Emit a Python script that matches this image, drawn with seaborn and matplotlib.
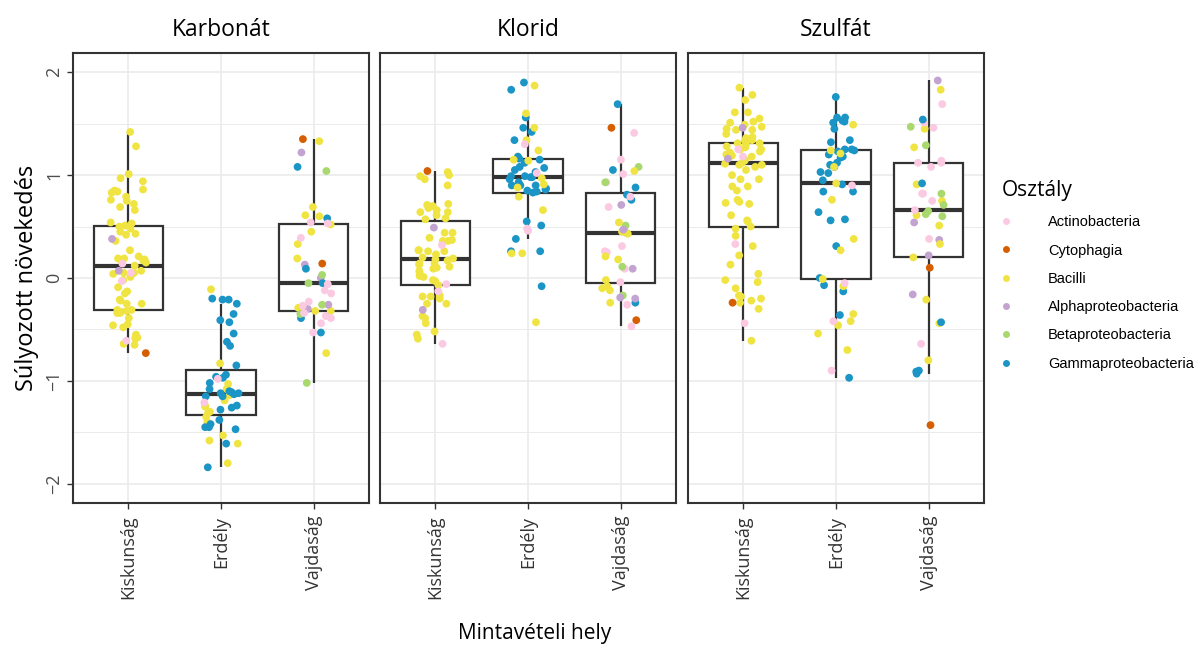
import numpy as np
import pandas as pd
import matplotlib
matplotlib.use("Agg")
import matplotlib.pyplot as plt
from matplotlib.lines import Line2D
from matplotlib.ticker import FixedLocator
import seaborn as sns

plt.rcParams['font.family'] = ['Open Sans', 'DejaVu Sans']

# ---------------- data ----------------
panels = ["Karbonát", "Klorid", "Szulfát"]
sites = ["Kiskunság", "Erdély", "Vajdaság"]
classes = ["Actinobacteria", "Cytophagia", "Bacilli",
           "Alphaproteobacteria", "Betaproteobacteria", "Gammaproteobacteria"]
class_codes = ["a", "c", "b", "p", "e", "g"]
class_colors = ["#FBC9E1", "#D55E00", "#F0E442", "#C3A3CF", "#A9D86E", "#1B95C6"]

# values per (panel, site), grouped by class code
karbonat_kiskunsag = {
    "b": [1.42, 1.28, 0.97, 1.01, 0.94, 0.86, 0.85, 0.84, 0.83, 0.79, 0.76, 0.75, 0.72, 0.69,
          0.66, 0.53, 0.54, 0.48, 0.50, 0.51, 0.45, 0.43, 0.42, 0.36, 0.27, 0.21, 0.17, 0.19,
          0.19, 0.18, 0.15, 0.12, 0.17, 0.07, 0.05, 0.04, 0.05, 0.01, -0.02, -0.09, -0.15,
          -0.13, -0.21, -0.22, -0.25, -0.25, -0.31, -0.33, -0.34, -0.32, -0.31, -0.34, -0.39,
          -0.46, -0.45, -0.48, -0.55, -0.58, -0.59, -0.58, -0.64, -0.65],
    "a": [0.14, 0.05, -0.03, -0.61],
    "p": [0.38, 0.07],
    "c": [-0.73],
}
karbonat_erdely = {
    "b": [-0.11, -1.03, -1.08, -1.14, -0.83, -1.19, -1.24, -1.25, -1.30, -1.31, -1.35, -1.40,
          -1.53, -1.58, -1.61, -1.80],
    "g": [-0.21, -0.21, -0.20, -0.25, -0.35, -0.43, -0.41, -0.54, -0.66, -0.62, -0.85, -0.94,
          -0.96, -0.97, -1.02, -1.08, -1.10, -1.11, -1.12, -1.13, -1.15, -1.15, -1.12, -1.24,
          -1.26, -1.28, -1.38, -1.42, -1.45, -1.45, -1.47, -1.61, -1.84],
    "a": [-0.98, -1.21],
}
karbonat_vajdasag = {
    "c": [1.35, 0.14],
    "b": [1.33, 0.69, 0.61, 0.60, 0.52, 0.45, 0.33, 0.19, -0.29, -0.32, -0.32, -0.73],
    "p": [1.22, 0.13, 0.00, -0.26, -0.30],
    "g": [1.08, 0.58, 0.09, -0.05, -0.39, -0.53],
    "e": [1.04, 0.03, -0.05, -0.26, -0.35, -1.02],
    "a": [0.54, 0.53, 0.39, -0.06, -0.12, -0.15, -0.23, -0.27, -0.34, -0.37, -0.39, -0.44, -0.53],
}
klorid_kiskunsag = {
    "c": [1.04],
    "b": [1.03, 1.00, 0.99, 0.96, 0.90, 0.72, 0.68, 0.71, 0.70, 0.66, 0.64, 0.64, 0.61, 0.58,
          0.57, 0.44, 0.44, 0.39, 0.37, 0.36, 0.36, 0.27, 0.27, 0.26, 0.26, 0.23, 0.20, 0.19,
          0.18, 0.17, 0.14, 0.14, 0.13, 0.11, 0.09, 0.07, 0.05, 0.10, 0.02, 0.01, -0.02, -0.03,
          -0.07, -0.17, -0.18, -0.20, -0.18, -0.25, -0.25, -0.37, -0.39, -0.44, -0.52, -0.55,
          -0.59],
    "p": [0.49, -0.31],
    "a": [0.32, -0.06, -0.13, -0.64],
}
klorid_erdely = {
    "g": [1.90, 1.83, 1.56, 1.46, 1.42, 1.34, 1.18, 1.15, 1.16, 1.12, 1.07, 1.08, 1.05, 1.03,
          0.98, 0.98, 0.99, 0.99, 0.96, 0.93, 0.90, 0.90, 0.90, 0.87, 0.86, 0.85, 0.84, 0.83,
          0.55, 0.51, 0.38, 0.26, 0.26, -0.08],
    "b": [1.87, 1.60, 1.46, 1.34, 1.24, 1.15, 1.14, 0.97, 0.91, 0.88, 0.79, 0.66, 0.24, 0.24,
          -0.43],
    "a": [1.30, 1.02, 0.48, 0.46],
}
klorid_vajdasag = {
    "g": [1.69, 1.05, 0.88, 0.81, 0.76, -0.24],
    "c": [1.46, -0.41],
    "a": [1.41, 1.15, 1.01, 0.93, 0.79, 0.69, 0.31, 0.25, 0.26, 0.09, -0.04, -0.26, -0.47],
    "e": [1.08, 0.93, 0.51, 0.47, 0.44, 0.11, -0.17],
    "b": [1.04, 0.54, 0.45, 0.43, 0.21, 0.18, -0.02, -0.08, -0.10, -0.12, -0.24],
    "p": [0.71, 0.47, 0.09, -0.19, -0.20],
}
szulfat_kiskunsag = {
    "b": [1.85, 1.78, 1.73, 1.61, 1.61, 1.55, 1.52, 1.51, 1.49, 1.47, 1.45, 1.44, 1.44, 1.40,
          1.37, 1.36, 1.34, 1.33, 1.31, 1.31, 1.30, 1.28, 1.27, 1.25, 1.25, 1.23, 1.22, 1.20,
          1.20, 1.19, 1.18, 1.15, 1.14, 1.12, 1.11, 1.10, 1.10, 1.08, 1.05, 1.00, 0.96, 0.96,
          0.89, 0.89, 0.85, 0.76, 0.74, 0.73, 0.72, 0.61, 0.56, 0.55, 0.50, 0.48, 0.41, 0.31,
          0.22, 0.13, 0.04, -0.02, -0.04, -0.10, -0.17, -0.20, -0.18, -0.22, -0.24, -0.30,
          -0.61],
    "p": [1.46, 1.16],
    "a": [1.25, 1.18, 0.33, -0.44],
    "c": [-0.24],
}
szulfat_erdely = {
    "g": [1.76, 1.56, 1.53, 1.56, 1.52, 1.51, 1.45, 1.34, 1.32, 1.25, 1.24, 1.25, 1.23, 1.20,
          1.17, 1.18, 1.12, 1.10, 1.08, 1.03, 1.02, 0.95, 0.91, 0.84, 0.84, 0.64, 0.57, 0.56,
          0.31, 0.00, -0.07, -0.13, -0.36, -0.97],
    "b": [1.49, 1.24, 1.21, 1.08, 0.92, 0.76, 0.38, 0.27, -0.01, -0.08, -0.35, -0.42, -0.46,
          -0.54, -0.70],
    "a": [0.90, -0.05, -0.42, -0.90],
}
szulfat_vajdasag = {
    "p": [1.92, 0.54, 0.37, 0.22, -0.16],
    "b": [1.83, 1.45, 1.27, 0.91, 0.75, 0.61, 0.51, 0.33, 0.20, -0.21, -0.44, -0.80],
    "a": [1.69, 1.51, 1.46, 1.12, 1.14, 1.12, 1.08, 0.82, 0.82, 0.75, 0.66, 0.38, -0.64],
    "g": [1.54, 0.92, -0.43, -0.93, -0.90, -0.91],
    "e": [1.47, 1.29, 0.82, 0.71, 0.65, 0.62, 0.60],
    "c": [0.10, -1.43],
}

groups = {
    ("Karbonát", "Kiskunság"): karbonat_kiskunsag,
    ("Karbonát", "Erdély"): karbonat_erdely,
    ("Karbonát", "Vajdaság"): karbonat_vajdasag,
    ("Klorid", "Kiskunság"): klorid_kiskunsag,
    ("Klorid", "Erdély"): klorid_erdely,
    ("Klorid", "Vajdaság"): klorid_vajdasag,
    ("Szulfát", "Kiskunság"): szulfat_kiskunsag,
    ("Szulfát", "Erdély"): szulfat_erdely,
    ("Szulfát", "Vajdaság"): szulfat_vajdasag,
}

code_to_class = dict(zip(class_codes, classes))
rows = []
for (panel, site), d in groups.items():
    for code, vals in d.items():
        for v in vals:
            rows.append((panel, site, code_to_class[code], v))
df = pd.DataFrame(rows, columns=["panel", "site", "cls", "val"])

# ---------------- figure ----------------
W, H = 1201, 648
fig = plt.figure(figsize=(W / 100, H / 100), dpi=100)
lefts = [72.7, 379.7, 687.7]
pw = 296.6
ptop, pbot = 52.7, 503.3

axes = []
np.random.seed(3)
for i, panel in enumerate(panels):
    ax = fig.add_axes([lefts[i] / W, 1 - pbot / H, pw / W, (pbot - ptop) / H])
    axes.append(ax)
    sub = df[df["panel"] == panel]
    ax.set_axisbelow(True)
    sns.boxplot(data=sub, x="site", y="val", order=sites, color="white",
                linecolor="#333333", linewidth=1.6, width=0.75, showfliers=False,
                showcaps=False, medianprops=dict(linewidth=3.0, color="#333333"),
                ax=ax)
    sns.stripplot(data=sub, x="site", y="val", order=sites, hue="cls",
                  hue_order=classes, palette=class_colors, jitter=0.2, size=5.6,
                  linewidth=0, legend=False, ax=ax, zorder=3)
    ax.set_xlim(-0.6, 2.6)
    ax.set_ylim(-2.19, 2.19)
    ax.set_yticks([-2, -1, 0, 1, 2])
    ax.yaxis.set_minor_locator(FixedLocator([-1.5, -0.5, 0.5, 1.5]))
    ax.grid(which="major", color="#EBEBEB", linewidth=1.2)
    ax.grid(which="minor", axis="y", color="#EBEBEB", linewidth=0.7)
    ax.tick_params(which="minor", length=0)
    for s in ax.spines.values():
        s.set_color("#333333")
        s.set_linewidth(1.5)
    ax.set_xlabel("")
    ax.set_ylabel("")
    ax.set_xticks(range(len(sites)))
    ax.set_xticklabels(sites, rotation=90, fontsize=13, color="#333333")
    ax.tick_params(axis="x", length=4, width=1, color="#333333", pad=5)
    if i == 0:
        ax.set_yticklabels(["\u22122", "\u22121", "0", "1", "2"], rotation=90,
                           fontsize=13, color="#4D4D4D", va="center")
        ax.tick_params(axis="y", length=4, width=1, color="#333333", pad=3)
    else:
        ax.set_yticklabels([])
        ax.tick_params(axis="y", length=0)
    fig.text((lefts[i] + pw / 2) / W, 1 - 30 / H, panel, ha="center", va="center",
             fontsize=16.5, color="black")

fig.text(27 / W, 1 - 278 / H, "Súlyozott növekedés", rotation=90, ha="center",
         va="center", fontsize=17)
fig.text(535 / W, 1 - 633 / H, "Mintavételi hely", ha="center", va="center",
         fontsize=15)

handles = [Line2D([0], [0], marker="o", linestyle="", markersize=5.0,
                  markerfacecolor=c, markeredgewidth=0) for c in class_colors]
leg = fig.legend(handles, classes, loc="upper left",
                 bbox_to_anchor=(1002 / W, 1 - 180 / H), frameon=False,
                 prop={"family": "Liberation Sans", "size": 10.5},
                 title="Osztály", title_fontproperties={"family": "Open Sans", "size": 15},
                 handlelength=0.6, handletextpad=2.55, labelspacing=0.98,
                 borderpad=0, borderaxespad=0)
leg._legend_box.align = "left"

fig.savefig("out.png", dpi=100, facecolor="white")
